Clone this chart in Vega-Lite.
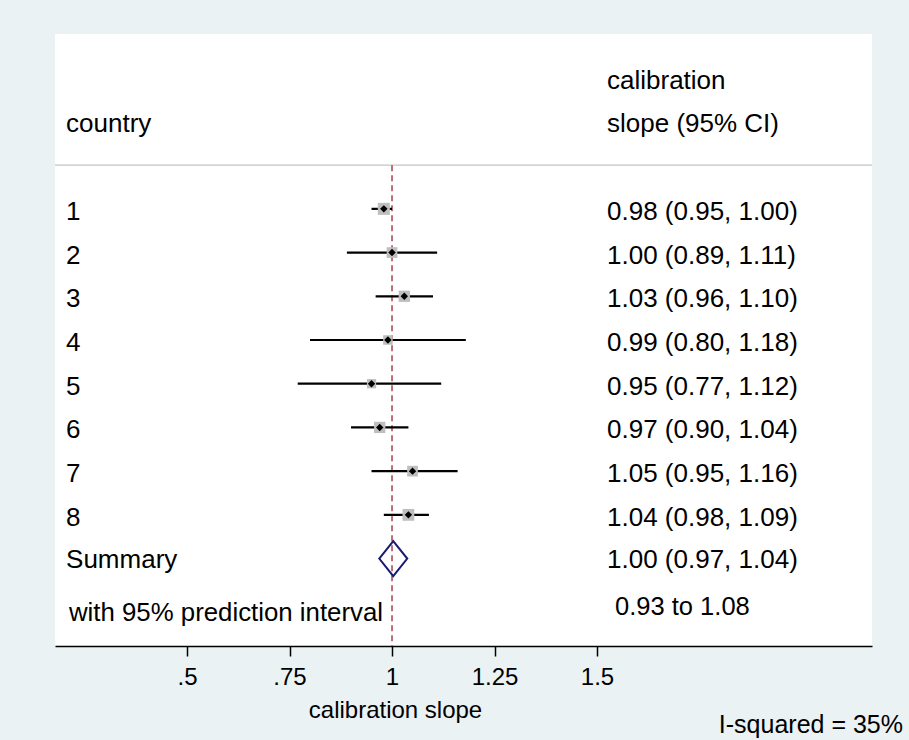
{
  "$schema": "https://vega.github.io/schema/vega-lite/v6.json",
  "width": 817,
  "height": 612,
  "autosize": {"type": "none"},
  "padding": {"left": 55, "top": 34, "right": 37, "bottom": 94},
  "background": "#EAF2F3",
  "config": {
    "view": {"fill": "white", "stroke": null},
    "font": "Liberation Sans",
    "text": {"font": "Liberation Sans", "color": "black"}
  },
  "title": {
    "text": "I-squared = 35%",
    "orient": "bottom",
    "anchor": "end",
    "frame": "group",
    "font": "Liberation Sans",
    "fontSize": 25,
    "fontWeight": "normal",
    "color": "black",
    "dx": 31,
    "offset": -9
  },
  "datasets": {
    "studies": [
      {"country": "1", "row": 1, "est": 0.98, "lo": 0.95, "hi": 1.00, "weight": 17, "ci": "0.98 (0.95, 1.00)"},
      {"country": "2", "row": 2, "est": 1.00, "lo": 0.89, "hi": 1.11, "weight": 12, "ci": "1.00 (0.89, 1.11)"},
      {"country": "3", "row": 3, "est": 1.03, "lo": 0.96, "hi": 1.10, "weight": 14, "ci": "1.03 (0.96, 1.10)"},
      {"country": "4", "row": 4, "est": 0.99, "lo": 0.80, "hi": 1.18, "weight": 8, "ci": "0.99 (0.80, 1.18)"},
      {"country": "5", "row": 5, "est": 0.95, "lo": 0.77, "hi": 1.12, "weight": 7, "ci": "0.95 (0.77, 1.12)"},
      {"country": "6", "row": 6, "est": 0.97, "lo": 0.90, "hi": 1.04, "weight": 14, "ci": "0.97 (0.90, 1.04)"},
      {"country": "7", "row": 7, "est": 1.05, "lo": 0.95, "hi": 1.16, "weight": 12, "ci": "1.05 (0.95, 1.16)"},
      {"country": "8", "row": 8, "est": 1.04, "lo": 0.98, "hi": 1.09, "weight": 16, "ci": "1.04 (0.98, 1.09)"}
    ],
    "summary": [
      {"country": "Summary", "row": 9, "est": 1.003, "lo": 0.97, "hi": 1.04, "ci": "1.00 (0.97, 1.04)", "pi": "0.93 to 1.08", "pilabel": "with 95% prediction interval"}
    ],
    "header1": [{"label": "calibration"}],
    "header2": [{"left": "country", "right": "slope (95% CI)"}],
    "refs": [{"ref": 1}]
  },
  "layer": [
    {
      "data": {"name": "refs"},
      "mark": {"type": "rule", "color": "#C4C4C4", "strokeWidth": 1.2},
      "encoding": {
        "y": {"datum": 0, "type": "quantitative", "scale": {"domain": [-3, 11], "reverse": true, "nice": false, "zero": false}, "axis": null}
      }
    },
    {
      "data": {"name": "refs"},
      "mark": {"type": "rule", "color": "#A8404B", "strokeWidth": 1.5, "strokeDash": [6, 4]},
      "encoding": {
        "x": {"field": "ref", "type": "quantitative", "scale": {"domain": [0.178, 2.1707], "nice": false, "zero": false},
          "title": "calibration slope",
          "axis": {"values": [0.5, 0.75, 1, 1.25, 1.5], "format": ".3~f", "labelExpr": "replace(datum.label, '0.', '.')", "grid": false, "domainColor": "black", "domainWidth": 1.5, "tickColor": "black", "tickWidth": 1.5, "tickSize": 10, "labelFont": "Liberation Sans", "labelFontSize": 24, "labelColor": "black", "labelPadding": 9, "labelFlush": false, "titleFont": "Liberation Sans", "titleFontSize": 24, "titleFontWeight": "normal", "titleColor": "black", "titlePadding": 9, "titleX": 340, "titleAnchor": "middle"}},
        "y": {"datum": 0, "type": "quantitative", "scale": {"domain": [-3, 11], "reverse": true, "nice": false, "zero": false}, "axis": null},
        "y2": {"datum": 11}
      }
    },
    {
      "data": {"name": "studies"},
      "mark": {"type": "rule", "color": "black", "strokeWidth": 2.2},
      "encoding": {
        "x": {"field": "lo", "type": "quantitative", "scale": {"domain": [0.178, 2.1707], "nice": false, "zero": false}, "title": "calibration slope"},
        "x2": {"field": "hi"},
        "y": {"field": "row", "type": "quantitative", "scale": {"domain": [-3, 11], "reverse": true, "nice": false, "zero": false}, "axis": null}
      }
    },
    {
      "data": {"name": "studies"},
      "mark": {"type": "point", "shape": "square", "filled": true, "color": "#BEBEBE", "opacity": 1},
      "encoding": {
        "x": {"field": "est", "type": "quantitative", "scale": {"domain": [0.178, 2.1707], "nice": false, "zero": false}, "title": "calibration slope"},
        "y": {"field": "row", "type": "quantitative", "scale": {"domain": [-3, 11], "reverse": true, "nice": false, "zero": false}, "axis": null},
        "size": {"field": "weight", "type": "quantitative", "scale": {"type": "linear", "domain": [7, 17], "range": [85, 145], "zero": false}, "legend": null}
      }
    },
    {
      "data": {"name": "studies"},
      "mark": {"type": "point", "shape": "diamond", "filled": true, "color": "black", "size": 55, "opacity": 1},
      "encoding": {
        "x": {"field": "est", "type": "quantitative", "scale": {"domain": [0.178, 2.1707], "nice": false, "zero": false}, "title": "calibration slope"},
        "y": {"field": "row", "type": "quantitative", "scale": {"domain": [-3, 11], "reverse": true, "nice": false, "zero": false}, "axis": null}
      }
    },
    {
      "data": {"name": "summary"},
      "mark": {"type": "point", "shape": "M-0.8,0L0,-1L0.8,0L0,1Z", "filled": false, "color": "#1A1A72", "strokeWidth": 2, "size": 1225, "opacity": 1},
      "encoding": {
        "x": {"field": "est", "type": "quantitative", "scale": {"domain": [0.178, 2.1707], "nice": false, "zero": false}, "title": "calibration slope"},
        "y": {"field": "row", "type": "quantitative", "scale": {"domain": [-3, 11], "reverse": true, "nice": false, "zero": false}, "axis": null}
      }
    },
    {
      "data": {"name": "studies"},
      "mark": {"type": "text", "align": "left", "baseline": "middle", "fontSize": 26, "dy": 3},
      "encoding": {
        "x": {"datum": 0.205, "type": "quantitative"},
        "y": {"field": "row", "type": "quantitative", "scale": {"domain": [-3, 11], "reverse": true, "nice": false, "zero": false}, "axis": null},
        "text": {"field": "country"}
      }
    },
    {
      "data": {"name": "studies"},
      "mark": {"type": "text", "align": "left", "baseline": "middle", "fontSize": 26, "dy": 3},
      "encoding": {
        "x": {"datum": 1.5244, "type": "quantitative"},
        "y": {"field": "row", "type": "quantitative", "scale": {"domain": [-3, 11], "reverse": true, "nice": false, "zero": false}, "axis": null},
        "text": {"field": "ci"}
      }
    },
    {
      "data": {"name": "summary"},
      "mark": {"type": "text", "align": "left", "baseline": "middle", "fontSize": 26, "dy": 1},
      "encoding": {
        "x": {"datum": 0.205, "type": "quantitative"},
        "y": {"field": "row", "type": "quantitative", "scale": {"domain": [-3, 11], "reverse": true, "nice": false, "zero": false}, "axis": null},
        "text": {"field": "country"}
      }
    },
    {
      "data": {"name": "summary"},
      "mark": {"type": "text", "align": "left", "baseline": "middle", "fontSize": 26, "dy": 1},
      "encoding": {
        "x": {"datum": 1.5244, "type": "quantitative"},
        "y": {"field": "row", "type": "quantitative", "scale": {"domain": [-3, 11], "reverse": true, "nice": false, "zero": false}, "axis": null},
        "text": {"field": "ci"}
      }
    },
    {
      "data": {"name": "summary"},
      "mark": {"type": "text", "align": "left", "baseline": "middle", "fontSize": 25.8},
      "encoding": {
        "x": {"datum": 0.212, "type": "quantitative"},
        "y": {"datum": 10.25, "type": "quantitative"},
        "text": {"field": "pilabel"}
      }
    },
    {
      "data": {"name": "summary"},
      "mark": {"type": "text", "align": "left", "baseline": "middle", "fontSize": 25.5},
      "encoding": {
        "x": {"datum": 1.544, "type": "quantitative"},
        "y": {"datum": 10.1, "type": "quantitative"},
        "text": {"field": "pi"}
      }
    },
    {
      "data": {"name": "header2"},
      "mark": {"type": "text", "align": "left", "baseline": "middle", "fontSize": 26, "dy": 3},
      "encoding": {
        "x": {"datum": 0.205, "type": "quantitative"},
        "y": {"datum": -1, "type": "quantitative"},
        "text": {"field": "left"}
      }
    },
    {
      "data": {"name": "header2"},
      "mark": {"type": "text", "align": "left", "baseline": "middle", "fontSize": 26, "dy": 3},
      "encoding": {
        "x": {"datum": 1.5244, "type": "quantitative"},
        "y": {"datum": -1, "type": "quantitative"},
        "text": {"field": "right"}
      }
    },
    {
      "data": {"name": "header1"},
      "mark": {"type": "text", "align": "left", "baseline": "middle", "fontSize": 26, "dy": 3},
      "encoding": {
        "x": {"datum": 1.5244, "type": "quantitative"},
        "y": {"datum": -2, "type": "quantitative"},
        "text": {"field": "label"}
      }
    }
  ]
}
